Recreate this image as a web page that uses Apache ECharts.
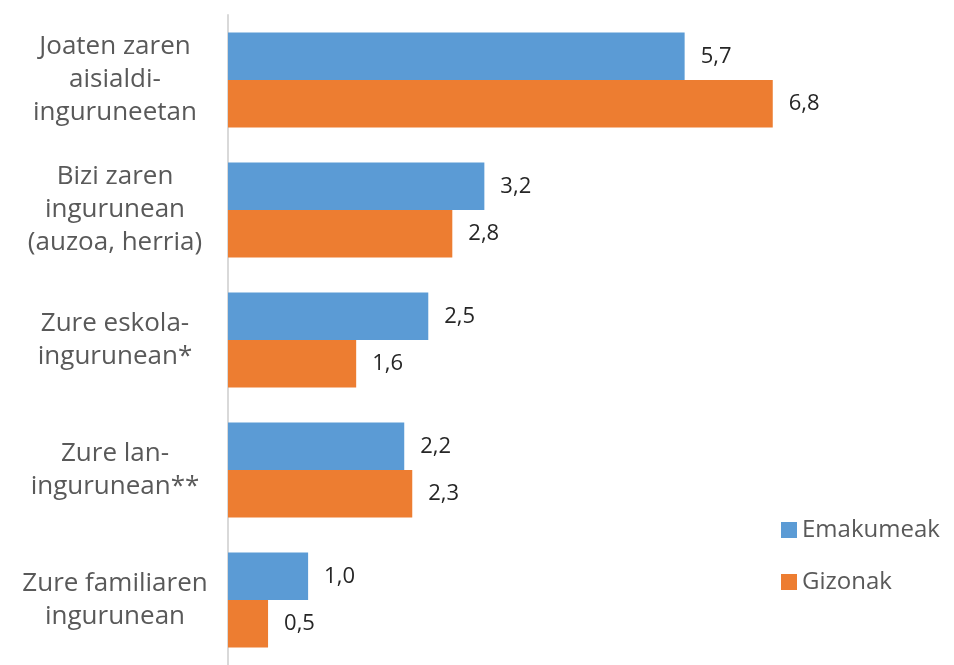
<!DOCTYPE html>
<html>
<head>
<meta charset="utf-8">
<script src="https://cdn.jsdelivr.net/npm/echarts@6/dist/echarts.min.js"></script>
<style>
  html, body { margin: 0; padding: 0; background: #fff; }
  #chart { width: 954px; height: 665px; }
</style>
</head>
<body>
<div id="chart"></div>
<script>
  // kategoriak goitik behera
  var categories = [
    'Joaten zaren\naisialdi-\ninguruneetan',
    'Bizi zaren\ningurunean\n(auzoa, herria)',
    'Zure eskola-\ningurunean*',
    'Zure lan-\ningurunean**',
    'Zure familiaren\ningurunean'
  ];
  var emakumeak = [5.7, 3.2, 2.5, 2.2, 1.0];
  var gizonak = [6.8, 2.8, 1.6, 2.3, 0.5];

  var font = '"Open Sans", "Noto Sans", sans-serif';
  var myChart = echarts.init(document.getElementById('chart'));

  var valueLabel = {
    show: true,
    position: 'right',
    distance: 16,
    color: '#262626',
    fontSize: 22,
    fontFamily: font,
    formatter: function (p) { return p.value.toFixed(1).replace('.', ','); }
  };

  myChart.setOption({
    animation: false,
    grid: { left: 228, top: 15, width: 721, height: 655 },
    legend: {
      orient: 'vertical',
      left: 776,
      top: 513,
      itemWidth: 16,
      itemHeight: 16,
      itemGap: 28,
      icon: 'rect',
      textStyle: { color: '#595959', fontSize: 24, fontFamily: font, padding: [0, 0, 0, 0] },
      data: ['Emakumeak', 'Gizonak']
    },
    xAxis: {
      type: 'value',
      min: 0,
      max: 9,
      show: false
    },
    yAxis: {
      type: 'category',
      inverse: true,
      data: categories,
      axisLine: { lineStyle: { color: '#d9d9d9', width: 2 } },
      axisTick: { length: 7, lineStyle: { color: '#d9d9d9', width: 2 } },
      axisLabel: {
        align: 'center',
        margin: 113,
        color: '#595959',
        fontSize: 26,
        lineHeight: 33,
        fontFamily: font
      }
    },
    series: [
      {
        name: 'Emakumeak',
        type: 'bar',
        data: emakumeak,
        barGap: '0%',
        barCategoryGap: '27%',
        itemStyle: { color: '#5b9bd5' },
        label: valueLabel
      },
      {
        name: 'Gizonak',
        type: 'bar',
        data: gizonak,
        itemStyle: { color: '#ed7d31' },
        label: valueLabel
      }
    ]
  });
</script>
</body>
</html>
